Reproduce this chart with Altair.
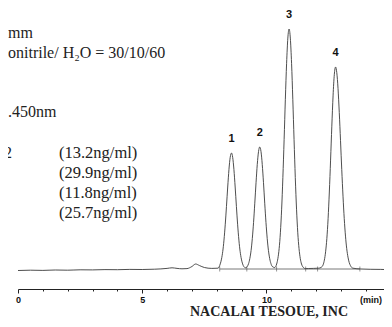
import altair as alt
import pandas as pd

# ---- data (time in min, signal above baseline) ----
trace_time = [
    0.0, 0.5, 1.0, 1.5, 2.0, 2.5, 3.0, 3.5, 4.0, 4.5, 5.0, 5.5, 6.0, 6.2, 6.4, 6.6,
    6.8, 7.0, 7.15, 7.3, 7.5, 7.8, 8.05,
    8.14, 8.19, 8.24, 8.29, 8.34, 8.39, 8.44, 8.49, 8.54, 8.59, 8.64, 8.69, 8.74,
    8.79, 8.84, 8.89, 8.94, 8.99, 9.04, 9.09, 9.16,
    9.23, 9.28, 9.33, 9.38, 9.43, 9.48, 9.53, 9.58, 9.63, 9.68, 9.73, 9.78, 9.83,
    9.88, 9.93, 9.98, 10.03, 10.08, 10.13, 10.18, 10.23, 10.33,
    10.41, 10.46, 10.51, 10.56, 10.61, 10.66, 10.71, 10.76, 10.81, 10.86, 10.91,
    10.96, 11.01, 11.06, 11.11, 11.16, 11.21, 11.26, 11.31, 11.36, 11.41, 11.46, 11.56,
    11.7, 11.9, 12.1, 12.2,
    12.28, 12.33, 12.38, 12.43, 12.48, 12.53, 12.58, 12.63, 12.68, 12.73, 12.78,
    12.83, 12.88, 12.93, 12.98, 13.03, 13.08, 13.13, 13.18, 13.23, 13.28, 13.33,
    13.38, 13.48, 13.8, 14.2, 14.6, 14.73,
]
trace_signal = [
    -1.5, -1.2, -1.4, -1.0, -1.2, -0.8, -0.9, -0.6, -0.7, -0.4, -0.5, -0.2, 0.6, 1.2, 0.6, 0.2,
    0.4, 2.5, 5.0, 3.5, 1.5, 0.6, 0.8,
    5.1, 9.9, 17.5, 28.9, 44.2, 62.5, 82.0, 99.4, 111.6, 116.0, 111.6, 99.4, 82.0,
    62.5, 44.2, 28.9, 17.5, 9.9, 5.1, 2.4, 1.2,
    2.6, 5.4, 10.4, 18.4, 30.4, 46.5, 65.8, 86.3, 104.6, 117.4, 122.0, 117.4, 104.6,
    86.3, 65.8, 46.5, 30.4, 18.4, 10.4, 5.4, 2.6, 1.5,
    5.0, 10.6, 20.4, 36.2, 59.8, 91.4, 129.4, 169.7, 205.7, 230.9, 240.0,
    230.9, 205.7, 169.7, 129.4, 91.4, 59.8, 36.2, 20.4, 10.6, 5.0, 2.3, 0.4,
    0.5, 0.6, 0.8, 1.6,
    4.2, 8.9, 17.2, 30.5, 50.3, 77.0, 108.9, 142.8, 173.1, 194.3, 202.0,
    196.3, 180.4, 156.5, 128.3, 99.4, 72.8, 50.4, 32.9, 20.3, 11.9, 6.5,
    3.4, 0.8, 0.0, -0.3, -0.4, -0.5,
]

peak_ids = ["1", "2", "3", "4"]
peak_times = [8.59, 9.73, 10.91, 12.78]
peak_heights = [116.0, 122.0, 240.0, 202.0]

marker_times = [8.12, 9.21, 10.41, 11.58, 12.06, 13.76]

tick_values = list(range(0, 15))

left_lines = ["mm", "onitrile/ H\u2082O = 30/10/60", ".450nm"]
cut_fragment = "2"
conc_lines = ["(13.2ng/ml)", "(29.9ng/ml)", "(11.8ng/ml)", "(25.7ng/ml)"]
footer = "NACALAI TESOUE, INC"
unit_label = "(min)"

# ---- tables ----
trace_df = pd.DataFrame({"t": trace_time, "s": trace_signal})
peak_df = pd.DataFrame({"id": peak_ids, "t": peak_times, "s": peak_heights})
mark_df = pd.DataFrame({"t": marker_times, "zero": [0.0] * len(marker_times)})
base_df = pd.DataFrame({"t": [marker_times[0]], "t2": [marker_times[-1]], "zero": [0.0]})

xscale = alt.Scale(domain=[0, 14.73], nice=False)
yscale = alt.Scale(domain=[-20, 261], nice=False, zero=False)

xaxis = alt.Axis(
    values=tick_values,
    labelExpr="datum.value % 5 === 0 ? datum.label : ''",
    title=None,
    grid=False,
    domainColor="#222",
    domainWidth=1,
    tickColor="#222",
    tickWidth=1,
    tickSize={"condition": {"test": "datum.value % 5 === 0", "value": 4}, "value": 2},
    labelFont="Liberation Sans",
    labelFontWeight="bold",
    labelFontSize=9,
    labelColor="#111",
    labelPadding=2,
    labelFlush=False,
    labelOverlap=False,
)

X = lambda f: alt.X(f, scale=xscale, axis=xaxis)

line = alt.Chart(trace_df).mark_line(
    color="#3a3a3a", strokeWidth=0.9, interpolate="monotone"
).encode(
    x=X("t:Q"),
    y=alt.Y("s:Q", scale=yscale, axis=None),
)

baseline = alt.Chart(base_df).mark_rule(color="#555", strokeWidth=0.8).encode(
    x=X("t:Q"),
    x2="t2:Q",
    y=alt.Y("zero:Q", scale=yscale, axis=None),
)

markers = alt.Chart(mark_df).mark_tick(
    orient="vertical", color="#444", thickness=0.8, size=5
).encode(
    x=X("t:Q"),
    y=alt.Y("zero:Q", scale=yscale, axis=None),
)

peak_labels = alt.Chart(peak_df).mark_text(
    font="Liberation Sans", fontWeight="bold", fontSize=11, dy=-14,
    baseline="middle", color="#111"
).encode(
    x=X("t:Q"),
    y=alt.Y("s:Q", scale=yscale, axis=None),
    text="id:N",
)

layers = [line, baseline, markers, peak_labels]

serif = "Liberation Serif"
left_y = [25, 45, 104]
for txt, py in zip(left_lines, left_y):
    layers.append(
        alt.Chart(pd.DataFrame({"txt": [txt]})).mark_text(
            font=serif, fontSize=16, align="left", baseline="middle", color="#222"
        ).encode(x=alt.value(-10), y=alt.value(py), text="txt:N")
    )

layers.append(
    alt.Chart(pd.DataFrame({"txt": [cut_fragment]})).mark_text(
        font=serif, fontSize=16, align="right", baseline="middle", color="#222"
    ).encode(x=alt.value(-6), y=alt.value(145), text="txt:N")
)

for i, txt in enumerate(conc_lines):
    layers.append(
        alt.Chart(pd.DataFrame({"txt": [txt]})).mark_text(
            font=serif, fontSize=16.5, align="left", baseline="middle", color="#222"
        ).encode(x=alt.value(41), y=alt.value(145 + 20 * i), text="txt:N")
    )

layers.append(
    alt.Chart(pd.DataFrame({"txt": [footer]})).mark_text(
        font=serif, fontSize=14, fontWeight="bold", align="center",
        baseline="alphabetic", color="#222"
    ).encode(x=alt.value(251), y=alt.value(308), text="txt:N")
)

layers.append(
    alt.Chart(pd.DataFrame({"txt": [unit_label]})).mark_text(
        font="Liberation Sans", fontSize=9, fontWeight="bold", align="right",
        baseline="middle", color="#111"
    ).encode(x=alt.value(364), y=alt.value(292), text="txt:N")
)

chart = alt.layer(*layers).properties(
    width=366,
    height=281,
    autosize=alt.AutoSizeParams(type="none"),
    padding={"left": 10, "top": 0, "right": 0, "bottom": 30},
    background="white",
).configure_view(stroke=None)

chart.save("out.html", embed_options={"renderer": "svg", "actions": False})
